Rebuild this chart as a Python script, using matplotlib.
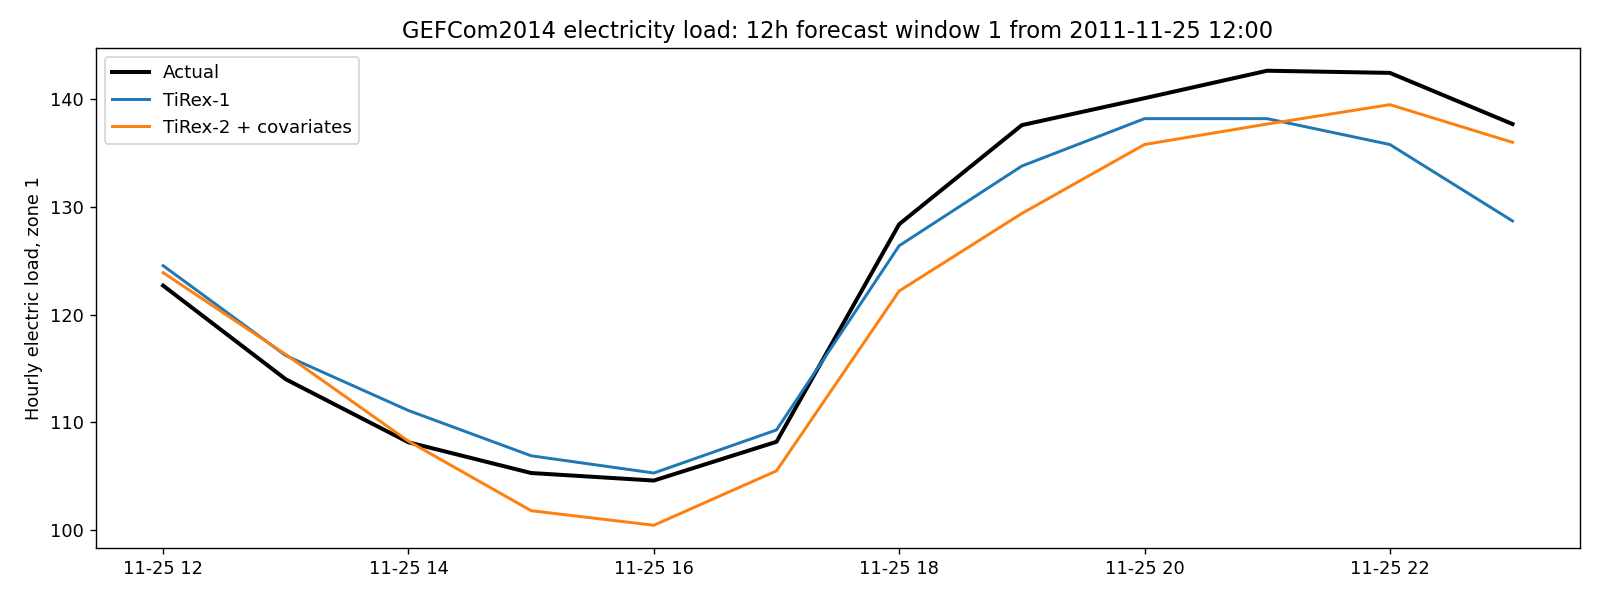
import matplotlib
matplotlib.use("Agg")
import matplotlib.pyplot as plt
import pandas as pd

times = pd.date_range("2011-11-25 12:00", periods=12, freq="h")
actual = [122.7, 114.0, 108.15, 105.3, 104.6, 108.2, 128.4, 137.6, 140.1, 142.65, 142.45, 137.7]
tirex1 = [124.55, 116.2, 111.1, 106.9, 105.3, 109.3, 126.4, 133.8, 138.2, 138.2, 135.8, 128.7]
tirex2 = [123.9, 116.3, 108.25, 101.8, 100.45, 105.5, 122.2, 129.4, 135.8, 137.7, 139.5, 136.0]

fig = plt.figure(figsize=(12.8, 4.8), dpi=125)
ax = fig.add_axes([0.0598, 0.0867, 0.9277, 0.8333])
ax.plot(times, actual, color="black", linewidth=2.3, label="Actual")
ax.plot(times, tirex1, color="#1f77b4", linewidth=1.7, label="TiRex-1")
ax.plot(times, tirex2, color="#ff7f0e", linewidth=1.7, label="TiRex-2 + covariates")
ax.set_title("GEFCom2014 electricity load: 12h forecast window 1 from 2011-11-25 12:00", fontsize=13)
ax.set_ylabel("Hourly electric load, zone 1", fontsize=10.2)
ax.tick_params(labelsize=10.2)
ax.legend(loc="upper left", fontsize=10.5)
fig.savefig("out.png", dpi=125)
